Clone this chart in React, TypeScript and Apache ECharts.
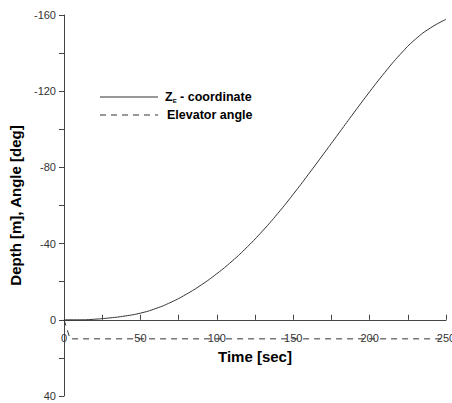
import React, { useEffect, useRef } from "react";
import * as echarts from "echarts";

const timeSec = [0, 10, 20, 30, 40, 50, 60, 70, 80, 90, 100, 110, 120, 130, 140, 150, 160, 170, 180, 190, 200, 210, 220, 230, 240, 250];
const zeCoordinate = [0, 0, -0.3, -1, -2, -3.5, -5.9, -9.2, -13.4, -18.4, -24.2, -30.8, -38.3, -46.7, -55.9, -65.9, -76.4, -87.2, -98.1, -109, -119.7, -129.9, -139.3, -147.3, -153.3, -157.7];
const elevatorTime = [0, 4, 250];
const elevatorAngle = [0, 10, 10];
const seriesNames = ["Z", "Elevator angle"];

const FONT = "'Liberation Sans', Arial, sans-serif";
const GRID_TOP = 15;
const GRID_BOTTOM = 7;
const CHART_H = 403;
const Y_MIN = -160;
const Y_MAX = 40;

export default function App() {
  const ref = useRef<HTMLDivElement>(null);
  useEffect(() => {
    if (!ref.current) return;
    const chart = echarts.init(ref.current, null, { renderer: "svg" });
    const gridH = CHART_H - GRID_TOP - GRID_BOTTOM;
    const xOffset = -gridH * (Y_MAX - 0) / (Y_MAX - Y_MIN);
    chart.setOption({
      animation: false,
      backgroundColor: "#fff",
      grid: { left: 64, right: 6, top: GRID_TOP, bottom: GRID_BOTTOM, containLabel: false, outerBoundsMode: "none" },
      xAxis: {
        type: "value",
        min: 0,
        max: 250,
        interval: 50,
        offset: xOffset,
        name: "Time [sec]",
        nameLocation: "middle",
        nameGap: 23,
        nameTextStyle: { fontFamily: FONT, fontWeight: "bold", fontSize: 15, color: "#000" },
        axisLine: { onZero: false, lineStyle: { color: "#444", width: 1 } },
        axisTick: { show: true, inside: true, length: 5, lineStyle: { color: "#444" } },
        minorTick: { show: true, splitNumber: 2, length: 5, lineStyle: { color: "#444" } },
        axisLabel: { fontFamily: FONT, fontSize: 11, color: "#333", margin: 13 },
        splitLine: { show: false },
      },
      yAxis: {
        type: "value",
        inverse: true,
        min: Y_MIN,
        max: Y_MAX,
        interval: 40,
        name: "Depth [m], Angle [deg]",
        nameLocation: "middle",
        nameGap: 40,
        nameTextStyle: { fontFamily: FONT, fontWeight: "bold", fontSize: 15, color: "#000" },
        axisLine: { show: true, onZero: false, lineStyle: { color: "#444", width: 1 } },
        axisTick: { show: true, inside: false, length: 5, lineStyle: { color: "#444" } },
        minorTick: { show: true, splitNumber: 2, length: 5, lineStyle: { color: "#444" } },
        axisLabel: { fontFamily: FONT, fontSize: 11, color: "#333", margin: 8 },
        splitLine: { show: false },
      },
      series: [
        {
          name: seriesNames[0],
          type: "line",
          showSymbol: false,
          smooth: 0.5,
          data: timeSec.map((t, i) => [t, zeCoordinate[i]]),
          lineStyle: { color: "#333", width: 1 },
        },
        {
          name: seriesNames[1],
          type: "line",
          showSymbol: false,
          data: elevatorTime.map((t, i) => [t, elevatorAngle[i]]),
          lineStyle: { color: "#333", width: 1, type: [6, 5] },
        },
      ],
      graphic: [
        { type: "line", shape: { x1: 100, y1: 97, x2: 158, y2: 97 }, style: { stroke: "#333", lineWidth: 1 } },
        { type: "line", shape: { x1: 100, y1: 115, x2: 158, y2: 115 }, style: { stroke: "#333", lineWidth: 1, lineDash: [6, 5] } },
        {
          type: "text",
          x: 165,
          y: 97,
          style: {
            text: "{a|Z}{b|E}{a| - coordinate}",
            verticalAlign: "middle",
            rich: {
              a: { fontFamily: FONT, fontWeight: "bold", fontSize: 12.5, fill: "#000" },
              b: { fontFamily: FONT, fontWeight: "bold", fontSize: 6, fill: "#000", verticalAlign: "bottom", padding: [6, 0, 0, 0] },
            },
          },
        },
        {
          type: "text",
          x: 167,
          y: 115,
          style: { text: "Elevator angle", fontFamily: FONT, fontWeight: "bold", fontSize: 12.5, fill: "#000", verticalAlign: "middle" },
        },
      ],
    });
    return () => chart.dispose();
  }, []);
  return <div ref={ref} style={{ width: 452, height: 403, position: "absolute", left: 0, top: 0 }} />;
}
